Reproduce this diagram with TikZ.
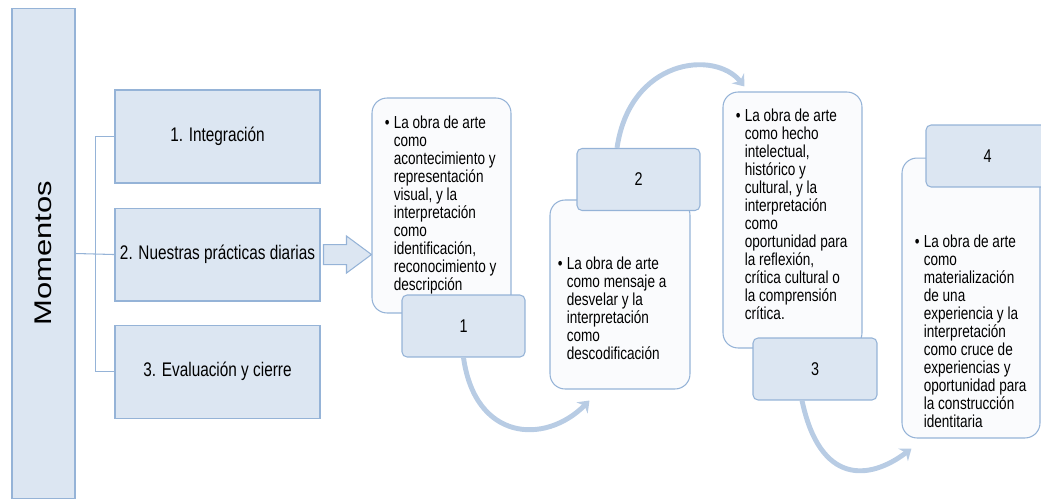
\documentclass[tikz,border=0pt]{standalone}
\usepackage{fontspec}
\setmainfont{Liberation Sans}
\newfontfamily\narrowfont{Liberation Sans}[FakeStretch=0.78]
\usetikzlibrary{arrows.meta,positioning}

\definecolor{boxfill}{RGB}{220,230,242}
\definecolor{boxline}{RGB}{149,179,215}
\definecolor{cardfill}{RGB}{250,251,253}
\definecolor{arccol}{RGB}{184,204,228}
\definecolor{ink}{RGB}{0,0,0}

\newcommand{\bul}{\makebox[0.18cm][l]{\textbullet}}
\newcommand{\lines}[1]{\begin{tabular}[t]{@{}l@{}l@{}}#1\end{tabular}}

\begin{document}
\begin{tikzpicture}[x=0.02cm, y=-0.02cm, >={Stealth[length=6pt,width=9pt]},
	bar/.style={draw=boxline, fill=boxfill, line width=0.6pt, inner sep=0pt},
	moment/.style={bar, minimum width=4.1cm, minimum height=1.86cm, text=ink,
		font=\narrowfont\fontsize{11.2}{13}\selectfont},
	card/.style={draw=boxline, fill=cardfill, rounded corners=0.3cm, line width=0.6pt, inner sep=0pt},
	num/.style={draw=boxline, fill=boxfill, rounded corners=0.1cm, line width=0.6pt,
		minimum width=2.46cm, minimum height=1.24cm, text=ink,
		font=\narrowfont\fontsize{10.5}{12}\selectfont},
	body/.style={anchor=base west, inner sep=0pt, text=ink,
		font=\narrowfont\fontsize{9.9}{10.1}\selectfont},
	link/.style={draw=boxline, line width=0.6pt},
	hop/.style={->, draw=arccol, line width=2.8pt}]
	\useasboundingbox (0,0) rectangle (1041,500);
	\clip (0,0) rectangle (1041,500);

	% left column
	\node[bar, minimum width=1.26cm, minimum height=9.82cm] (MOM) at (43.5,253.5)
		{\rotatebox{90}{\scalebox{1}[0.78]{\fontsize{17.6}{20}\selectfont\color{ink}Momentos}}};
	\node[moment]                      (INT) at (217.5,136.5) {1. Integración};
	\node[moment, below=0.48cm of INT] (NPD)                  {2. Nuestras prácticas diarias};
	\node[moment, below=0.46cm of NPD] (EVC)                  {3. Evaluación y cierre};

	\draw[link] (MOM.east) -- (NPD.west);
	\draw[link] (INT.west) -- ++(-19,0) |- (EVC.west);
	\draw[bar] ([shift={(3,-10)}]NPD.east) -- ++(23,0) -- ++(0,-8.5) -- ++(25,18.5)
		-- ++(-25,18.5) -- ++(0,-8.5) -- ++(-23,0) -- cycle;

	% cards
	\node[card, minimum width=2.78cm, minimum height=4.3cm]  (OA1) at (441.5,205.5) {};
	\node[card, minimum width=2.8cm,  minimum height=3.78cm] (OA2) at (620,294.5)   {};
	\node[card, minimum width=2.78cm, minimum height=5.12cm] (OA3) at (792.5,220)   {};
	\node[card, minimum width=2.76cm, minimum height=5.6cm]  (OA4) at (971,298)     {};

	\node[body] (T1) at ([shift={(13,31)}]OA1.north west) {\lines{%
		\bul & La obra de arte\\ & como\\ & acontecimiento y\\ & representación\\
		& visual, y la\\ & interpretación\\ & como\\ & identificación,\\
		& reconocimiento y\\ & descripción}};
	\node[body] (T2) at ([shift={(8,70)}]OA2.north west) {\lines{%
		\bul & La obra de arte\\ & como mensaje a\\ & desvelar y la\\
		& interpretación\\ & como\\ & descodificación}};
	\node[body] (T3) at ([shift={(13,30)}]OA3.north west) {\lines{%
		\bul & La obra de arte\\ & como hecho\\ & intelectual,\\ & histórico y\\
		& cultural, y la\\ & interpretación\\ & como\\ & oportunidad para\\
		& la reflexión,\\ & crítica cultural o\\ & la comprensión\\ & crítica.}};
	\node[body] (T4) at ([shift={(13,90)}]OA4.north west) {\lines{%
		\bul & La obra de arte\\ & como\\ & materialización\\ & de una\\
		& experiencia y la\\ & interpretación\\ & como cruce de\\ & experiencias y\\
		& oportunidad para\\ & la construcción\\ & identitaria}};

	% numbers
	\node[num]                       (N1) at (463.5,326)   {1};
	\node[num]                       (N2) at (638.5,179.5) {2};
	\node[num, minimum width=2.48cm] (N3) at (815,369)     {3};
	\node[num]                       (N4) at (987.5,156)   {4};

	% curved arrows
	\draw[hop] (N1.south) .. controls +(11.5,83) and +(-45,45) .. ([shift={(40,11)}]OA2.south west);
	\draw[hop] ([xshift=-0.43cm]N2.north) .. controls +(13,-89) and +(-30,-37) .. ([shift={(22,-5)}]OA3.north west);
	\draw[hop] ([xshift=-0.26cm]N3.south) .. controls +(18,85) and +(-42,32) .. ([shift={(10,10)}]OA4.south west);
\end{tikzpicture}
\end{document}
